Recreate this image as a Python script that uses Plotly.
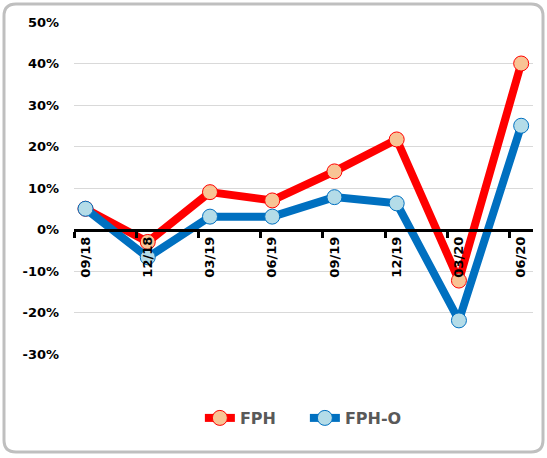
import plotly.graph_objects as go

categories = ["09/18", "12/18", "03/19", "06/19", "09/19", "12/19", "03/20", "06/20"]
fph = [5.0, -3.0, 9.0, 7.0, 14.0, 21.7, -12.3, 40.0]
fph_o = [5.0, -6.7, 3.1, 3.1, 7.8, 6.3, -21.9, 25.0]
y_tick_vals = [-30, -20, -10, 0, 10, 20, 30, 40, 50]
y_tick_text = [f"{v}%" for v in y_tick_vals]

x_idx = list(range(len(categories)))
FONT = "DejaVu Sans"

fig = go.Figure()
fig.add_trace(go.Scatter(
    x=x_idx, y=fph, name="FPH", mode="lines+markers",
    line=dict(color="#FF0000", width=8),
    marker=dict(size=15, color="#F8C495", line=dict(color="#FF0000", width=1)),
))
fig.add_trace(go.Scatter(
    x=x_idx, y=fph_o, name="FPH-O", mode="lines+markers",
    line=dict(color="#0070C0", width=8),
    marker=dict(size=15, color="#B4DCE8", line=dict(color="#0070C0", width=1)),
))

# plot area in px: x 74..533, y 22..354
L, R, T, B = 74, 14, 22, 104
W, H = 547, 458
pw, ph = W - L - R, H - T - B

def px(x):
    return (x - L) / pw

def py(y):
    return (H - B - y) / ph

x0, x1, y0, y1 = px(4), px(543), py(452), py(4)
rx, ry = 12 / pw, 12 / ph
path = (f"M {x0+rx},{y1} L {x1-rx},{y1} Q {x1},{y1} {x1},{y1-ry} "
        f"L {x1},{y0+ry} Q {x1},{y0} {x1-rx},{y0} L {x0+rx},{y0} "
        f"Q {x0},{y0} {x0},{y0+ry} L {x0},{y1-ry} Q {x0},{y1} {x0+rx},{y1} Z")
fig.add_shape(type="path", path=path, xref="paper", yref="paper",
              line=dict(color="#BFBFBF", width=3), layer="below")

ymin, ymax = -30, 50
fig.update_layout(
    width=W, height=H,
    margin=dict(l=L, r=R, t=T, b=B),
    paper_bgcolor="white", plot_bgcolor="white",
    font=dict(family=FONT, size=13, color="black"),
    showlegend=True,
    legend=dict(orientation="h", x=0.503, xanchor="center", y=py(418), yanchor="middle",
                font=dict(family=FONT, size=16, color="#595959", weight="bold"),
                itemwidth=30, entrywidth=60, bgcolor="rgba(0,0,0,0)"),
    xaxis=dict(
        range=[-0.185, 7.19],
        tickmode="array", tickvals=x_idx, ticktext=categories,
        tickangle=-90, ticks="",
        tickfont=dict(family=FONT, size=13, color="black", weight="bold"),
        showgrid=False, zeroline=False,
        showline=True, linecolor="black", linewidth=3,
        anchor="free", position=(0 - ymin) / (ymax - ymin),
        minor=dict(tickmode="array", tickvals=[i - 0.185 for i in x_idx],
                   ticks="outside", ticklen=6, tickwidth=3, tickcolor="black",
                   showgrid=False),
    ),
    yaxis=dict(
        range=[ymin, ymax],
        tickmode="array", tickvals=y_tick_vals, ticktext=y_tick_text,
        tickfont=dict(family=FONT, size=13, color="black", weight="bold"),
        showgrid=True, gridcolor="#D9D9D9", gridwidth=1,
        zeroline=False, showline=False, ticks="", ticklabelstandoff=14,
    ),
)

fig.write_html("out.html", config={"displayModeBar": False})
with open("out.html", encoding="utf-8") as f:
    html = f.read()
html = html.replace("<body>", '<body style="margin:0;padding:0;overflow:hidden">', 1)
with open("out.html", "w", encoding="utf-8") as f:
    f.write(html)
